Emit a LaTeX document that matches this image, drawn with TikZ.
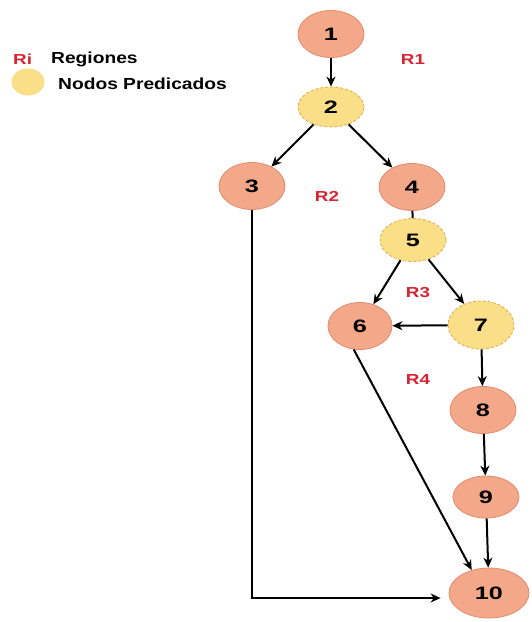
\documentclass[tikz,border=0pt]{standalone}
\usepackage{fontspec}
\usepackage{graphicx}
\setmainfont{Liberation Sans}
\usetikzlibrary{shapes.geometric,arrows.meta}
\definecolor{salmonfill}{RGB}{244,168,138}
\definecolor{salmonline}{RGB}{224,140,110}
\definecolor{predfill}{RGB}{250,222,136}
\definecolor{predline}{RGB}{222,172,72}
\definecolor{regred}{RGB}{214,36,48}
\newcommand{\numtxt}[1]{\scalebox{1.4}[1]{\fontsize{18}{18}\selectfont\bfseries #1}}
\newcommand{\regtxt}[1]{\scalebox{1.3}[1]{\fontsize{14.5}{15}\selectfont\bfseries #1}}
\newcommand{\legtxt}[1]{\scalebox{1.2}[1]{\fontsize{16}{16}\selectfont\bfseries #1}}
\tikzset{
  plainnode/.style={ellipse, draw=salmonline, fill=salmonfill, line width=0.8pt,
    minimum width=66pt, minimum height=47pt, inner sep=0pt},
  prednode/.style={ellipse, draw=predline, fill=predfill, line width=0.8pt,
    dashed, dash pattern=on 3pt off 2pt, minimum width=66pt, minimum height=43pt, inner sep=0pt},
  flow/.style={draw=black, line width=2pt, -{Stealth[length=10pt,width=9pt]}},
  link/.style={draw=black, line width=2pt},
  region/.style={text=regred, inner sep=0pt},
}
\begin{document}
\begin{tikzpicture}[x=1pt,y=-1pt]
\useasboundingbox (0,0) rectangle (532,622);
\fill[white] (0,0) rectangle (532,622);

% legend
\node[region, anchor=west] (legri) at (13,59) {\regtxt{Ri}};
\node[anchor=west, inner sep=0pt] (legreg) at (51,59) {\legtxt{Regiones}};
\node[ellipse, fill=predfill, minimum width=33pt, minimum height=27pt, inner sep=0pt] (legdot) at (28,82) {};
\node[anchor=west, inner sep=0pt] (legpred) at (58,84) {\legtxt{Nodos Predicados}};

% nodes
\node[plainnode] (n1) at (331,34) {\numtxt{1}};
\node[prednode, minimum height=40pt] (n2) at (331,107) {\numtxt{2}};
\node[plainnode] (n3) at (252,186) {\numtxt{3}};
\node[plainnode] (n4) at (412,187) {\numtxt{4}};
\node[prednode] (n5) at (413,240) {\numtxt{5}};
\node[plainnode, minimum width=64pt] (n6) at (360,326) {\numtxt{6}};
\node[prednode, minimum height=48pt] (n7) at (481,325) {\numtxt{7}};
\node[plainnode] (n8) at (483,410) {\numtxt{8}};
\node[plainnode, minimum height=42pt] (n9) at (486,497) {\numtxt{9}};
\node[plainnode, minimum width=80pt, minimum height=50pt] (n10) at (489,593) {\numtxt{10}};

% region labels
\node[region] (r1) at (413,60) {\regtxt{R1}};
\node[region] (r2) at (327,196) {\regtxt{R2}};
\node[region] (r3) at (418,293) {\regtxt{R3}};
\node[region] (r4) at (418,380) {\regtxt{R4}};

% connectors
\draw[flow] (n1) -- (n2);
\draw[flow] (n2) -- (n3);
\draw[flow] (n2) -- (n4);
\draw[link] (n4) -- (n5);
\draw[flow] (n5) -- (n6);
\draw[flow] (n5) -- (n7);
\draw[flow] (n7) -- (n6);
\draw[flow] (n7) -- (n8);
\draw[flow] (n8) -- (n9);
\draw[flow] (n9) -- (n10);
\draw[flow] (n6.255) -- (n10.127);
\draw[flow] (n3.south) |- ([yshift=-5pt,xshift=-8pt]n10.west);
\end{tikzpicture}
\end{document}
